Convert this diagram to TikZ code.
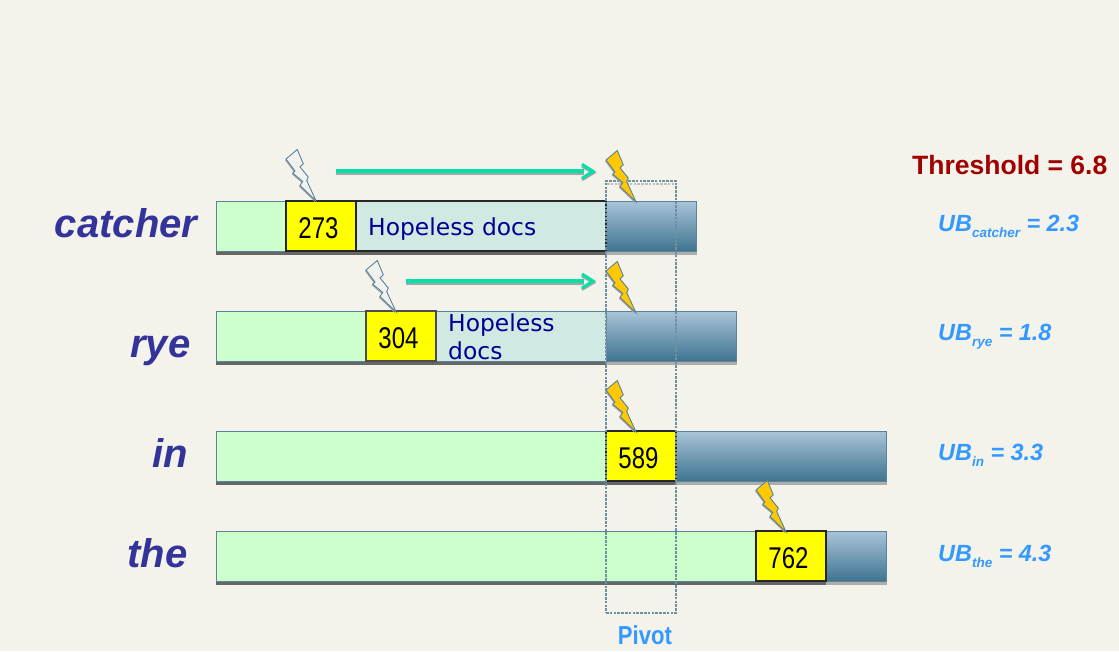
\documentclass[tikz,border=0pt]{standalone}
\usepackage{graphicx}
\usepackage{fontspec}
\setmainfont{Liberation Sans}
\newfontfamily\dejavu{DejaVu Sans}
\usetikzlibrary{calc}
\definecolor{bgc}{HTML}{F3F3EC}
\definecolor{edgec}{HTML}{5A8398}
\definecolor{greenc}{HTML}{CCFFCC}
\definecolor{docsc}{HTML}{D0E9E3}
\definecolor{bluetop}{HTML}{A9C4D9}
\definecolor{bluebot}{HTML}{3F7490}
\definecolor{termc}{HTML}{333399}
\definecolor{ubc}{HTML}{3399FF}
\definecolor{redc}{HTML}{A00000}
\definecolor{navyc}{HTML}{000090}
\definecolor{arrowc}{HTML}{00E2A8}
\definecolor{boltc}{HTML}{FFC800}
\definecolor{boltw}{HTML}{F1F1EE}
\definecolor{pivotc}{HTML}{6F919F}
\definecolor{numfill}{HTML}{FFFF00}
\tikzset{
  seg/.style={anchor=north west,inner sep=0,outer sep=0,minimum height=50pt,line width=0.8pt},
  greenseg/.style={seg,draw=edgec,fill=greenc},
  yellowseg/.style={seg,draw=black!85,fill=numfill,line width=1.2pt,font=\fontsize{30}{30}\selectfont},
  docsseg/.style={seg,draw=black!85,fill=docsc,line width=1.2pt},
  blueseg/.style={seg,draw=edgec,top color=bluetop,bottom color=bluebot},
  docstext/.style={text=navyc,font=\dejavu\fontsize{23.4}{26}\selectfont,anchor=base west,inner sep=0},
  term/.style={anchor=base east,text=termc,font=\bfseries\itshape\fontsize{40}{40}\selectfont,inner sep=0},
  ublabel/.style={anchor=base west,text=ubc,font=\bfseries\itshape\fontsize{23.4}{24}\selectfont,inner sep=0},
  shadowdark/.style={fill=black!60,draw=none},
  shadowlight/.style={fill=black!32,draw=none},
  flow/.style={draw=arrowc,line width=4pt},
  flowhead/.style={draw=arrowc,line width=3pt,line join=miter},
  flowshadow/.style={draw=black!35,line width=4pt},
  flowheadshadow/.style={draw=black!35,line width=3pt},
  pivotbox/.style={draw=pivotc,line width=1.2pt,dash pattern=on 2.6pt off 1.2pt},
}
\newcommand{\mynum}[1]{\raisebox{-12.3pt}[0pt][0pt]{\scalebox{0.8}[1]{#1}}\hspace*{5pt}}
\newcommand{\ubsub}[1]{\raisebox{-6pt}{\fontsize{13.5}{14}\selectfont #1}}
% tip x, tip y, fill colour
\newcommand{\boltshape}[3]{%
  \path[fill=black!35] (#1-1,#2+1.2) ++(-30,-41) -- ++(11.3,-9.5) -- ++(6,14.3) -- ++(-3.3,3) -- ++(8.3,10.3) -- ++(-1.6,3.4) -- ++(9.3,20.3) -- ++(-16,-15.3) -- ++(2.7,-4) -- ++(-10,-8.4) -- ++(2.3,-2) -- cycle;
  \path[fill=#3,draw=edgec,line width=0.9pt,line join=miter] (#1,#2) ++(-30,-41) -- ++(11.3,-9.5) -- ++(6,14.3) -- ++(-3.3,3) -- ++(8.3,10.3) -- ++(-1.6,3.4) -- ++(9.3,20.3) -- ++(-16,-15.3) -- ++(2.7,-4) -- ++(-10,-8.4) -- ++(2.3,-2) -- cycle;
}
\newcommand{\flowhd}[2]{%
  \draw[flowheadshadow] (#1-14,#2-5) -- (#1-2.5,#2+1.5) -- (#1-14,#2+8.5);
  \draw[flowhead] (#1-14,#2-7) -- (#1-3,#2) -- (#1-14,#2+7);
}
\begin{document}
\begin{tikzpicture}[x=1pt,y=-1pt]
\useasboundingbox (0,0) rectangle (1119,651);
\fill[bgc] (0,0) rectangle (1119,651);

% bar shadows
\fill[shadowdark] (216,251) rectangle (606,254.5);
\fill[shadowlight] (606,251) rectangle (697,254.5);
\fill[shadowdark] (216,361) rectangle (606,364.5);
\fill[shadowlight] (606,361) rectangle (737,364.5);
\fill[shadowdark] (216,481) rectangle (676,484.5);
\fill[shadowlight] (676,481) rectangle (887,484.5);
\fill[shadowdark] (216,581) rectangle (826,584.5);
\fill[shadowlight] (826,581) rectangle (887,584.5);

% catcher
\node[blueseg,minimum width=90pt] (cb) at (606,201) {};
\node[greenseg,minimum width=70pt] (cg) at (216,201) {};
\node[docsseg,minimum width=250pt] (cd) at (356,201) {};
\node[yellowseg,minimum width=70pt] (cy) at (286,201) {\mynum{273}};
\node[docstext] (ct) at (368,235) {Hopeless docs};

% rye
\node[blueseg,minimum width=130pt] (rb) at (606,311) {};
\node[greenseg,minimum width=150pt] (rg) at (216,311) {};
\node[seg,draw=edgec,fill=docsc,minimum width=170pt] (rd) at (436,311) {};
\node[yellowseg,draw=black!70,minimum width=70pt] (ry) at (366,311) {\mynum{304}};
\node[docstext] (rt1) at (448,331) {Hopeless};
\node[docstext] (rt2) at (448,359) {docs};

% in
\node[blueseg,minimum width=210pt] (ib) at (676,431) {};
\node[greenseg,minimum width=390pt] (ig) at (216,431) {};
\node[yellowseg,minimum width=70pt] (iy) at (606,431) {\mynum{589}};

% the
\node[blueseg,minimum width=60pt] (tb) at (826,531) {};
\node[greenseg,minimum width=540pt] (tg) at (216,531) {};
\node[yellowseg,minimum width=70pt] (ty) at (756,531) {\mynum{762}};

% pivot box
\draw[draw=white!75!black,line width=1.2pt,dash pattern=on 2.6pt off 1.2pt] (607,184) -- (675,184);
\node[pivotbox,anchor=north west,inner sep=0,outer sep=0,minimum width=70pt,minimum height=432pt] (pv) at (606,181) {};
\node[text=ubc,font=\bfseries\fontsize{26}{26}\selectfont,anchor=base,inner sep=0] (pl) at (645,644) {\scalebox{0.85}[1]{Pivot}};

% bolts
\boltshape{316}{200}{boltw}
\boltshape{636}{201}{boltc}
\boltshape{396}{311}{boltw}
\boltshape{636}{312}{boltc}
\boltshape{636}{431}{boltc}
\boltshape{786}{531}{boltc}

% arrows
\coordinate (a1s) at (336,171.3);
\coordinate (a1e) at (596,171.3);
\coordinate (a2s) at (406,281);
\coordinate (a2e) at (596,281);
\draw[flowshadow] ($(a1s)+(0,2)$) -- ($(a1e)+(-12,2)$);
\draw[flow] (a1s) -- ($(a1e)+(-12,0)$);
\flowhd{596}{171.3}
\draw[flowshadow] ($(a2s)+(0,2)$) -- ($(a2e)+(-12,2)$);
\draw[flow] (a2s) -- ($(a2e)+(-12,0)$);
\flowhd{596}{281}

% term labels
\node[term] (lc) at (197.5,237.5) {catcher};
\node[term] (lr) at (190.5,357.5) {rye};
\node[term] (li) at (188,467.5) {in};
\node[term] (lt) at (187.5,567.5) {the};

% right labels
\node[anchor=base west,text=redc,font=\bfseries\fontsize{26.5}{26.5}\selectfont,inner sep=0] (th) at (912,174) {Threshold = 6.8};
\node[ublabel] (u1) at (938,231) {UB\ubsub{catcher} = 2.3};
\node[ublabel] (u2) at (938,340) {UB\ubsub{rye} = 1.8};
\node[ublabel] (u3) at (938,460) {UB\ubsub{in} = 3.3};
\node[ublabel] (u4) at (938,561) {UB\ubsub{the} = 4.3};
\end{tikzpicture}
\end{document}
